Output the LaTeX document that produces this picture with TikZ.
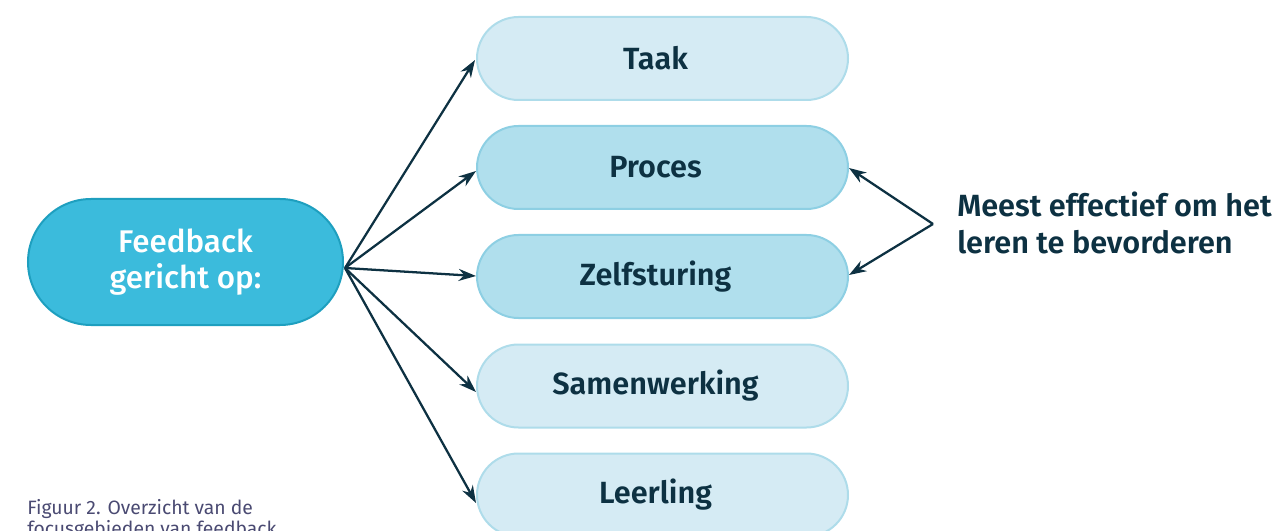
\documentclass[tikz,border=0pt]{standalone}
\usepackage{fontspec}
\setmainfont{Fira Sans}[BoldFont={Fira Sans SemiBold}]
\newfontfamily\firamedium{Fira Sans Medium}
\usetikzlibrary{arrows.meta,shapes.misc}
\definecolor{darkblue}{HTML}{0D3142}
\definecolor{mainfill}{HTML}{3BBBDC}
\definecolor{mainborder}{HTML}{1E9FBF}
\definecolor{lightfill}{HTML}{D5EBF4}
\definecolor{lightborder}{HTML}{AEDCEA}
\definecolor{midfill}{HTML}{B0DFED}
\definecolor{midborder}{HTML}{8DCFE3}
\definecolor{captioncol}{HTML}{4A4A72}
\newcommand{\pillshiftleft}{\hspace*{-10.5pt}}
\tikzset{
  pill/.style={rounded rectangle, minimum width=371*0.75pt, minimum height=83*0.75pt, line width=1.5pt, text=darkblue, font=\bfseries\fontsize{23}{28}\selectfont, inner sep=0pt},
  lightpill/.style={pill, fill=lightfill, draw=lightborder},
  midpill/.style={pill, fill=midfill, draw=midborder},
  mainpill/.style={rounded rectangle, minimum width=315*0.75pt, minimum height=126*0.75pt, line width=1.5pt, fill=mainfill, draw=mainborder, text=white, align=center, font=\firamedium\fontsize{23.5}{27.5}\selectfont, inner sep=0pt},
  arr/.style={-{Stealth[length=13pt,width=9pt]}, line width=1.7pt, draw=darkblue}
}
\begin{document}
\begin{tikzpicture}[x=0.75pt,y=-0.75pt]
\useasboundingbox (0,0) rectangle (1275,531);
\node[mainpill] (fb) at (185.5,262) {Feedback\\gericht op:};
\node[lightpill] (taak) at (662.5,58.5) {\pillshiftleft Taak};
\node[midpill] (proces) at (662.5,167.5) {\pillshiftleft Proces};
\node[midpill] (zelf) at (662.5,276.5) {\pillshiftleft Zelfsturing};
\node[lightpill] (samen) at (662.5,386) {\pillshiftleft Samenwerking};
\node[lightpill] (leer) at (662.5,495) {\pillshiftleft Leerling};
\coordinate (src) at (345,268);
\coordinate (tTaak) at (475,60);
\coordinate (tProces) at (476,171);
\coordinate (tZelf) at (476,276);
\coordinate (tSamen) at (476,392);
\coordinate (tLeer) at (476,503);
\draw[arr] (src) -- (tTaak);
\draw[arr] (src) -- (tProces);
\draw[arr] (src) -- (tZelf);
\draw[arr] (src) -- (tSamen);
\draw[arr] (src) -- (tLeer);
\coordinate (vx) at (933,224);
\coordinate (rProces) at (849,168);
\coordinate (rZelf) at (849,275);
\draw[arr] (vx) -- (rProces);
\draw[arr] (vx) -- (rZelf);
\node[anchor=west, align=left, text=darkblue, font=\bfseries\fontsize{23}{27.5}\selectfont, inner sep=0pt] (meest) at (957,223) {Meest effectief om het\\leren te bevorderen};
\node[anchor=north west, align=left, text=captioncol, font=\fontsize{14.5}{15.5}\selectfont, inner sep=0pt] (cap) at (27,499) {Figuur 2. Overzicht van de\\focusgebieden van feedback};
\end{tikzpicture}
\end{document}
